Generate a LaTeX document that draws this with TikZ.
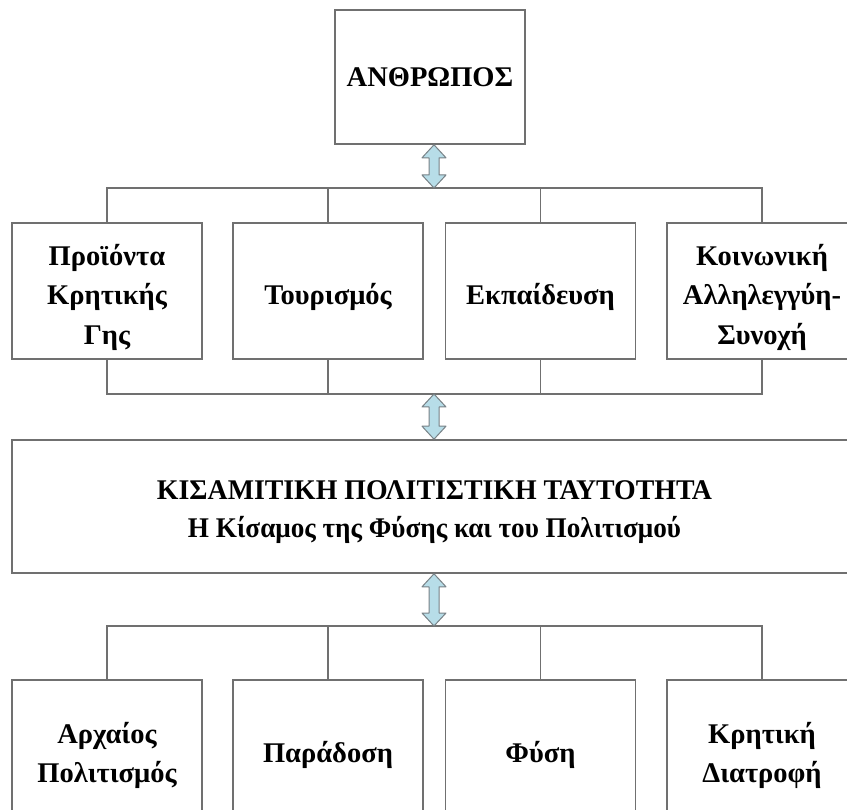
\documentclass[tikz,border=0pt]{standalone}
\usepackage{fontspec}
\usepackage{graphicx}
\setmainfont{Liberation Serif}
\usetikzlibrary{calc}
\definecolor{edgegray}{RGB}{112,112,112}
\definecolor{arrowblue}{RGB}{183,221,232}
\definecolor{arrowedge}{RGB}{120,130,135}
\tikzset{
  box/.style={draw=edgegray, line width=1.6pt, fill=white, minimum width=190pt,
    minimum height=136pt, inner sep=0pt, align=center,
    font=\fontsize{28.5}{39.5}\selectfont\bfseries},
  bus/.style={draw=edgegray, line width=1.4pt},
  blockarrow/.style={fill=arrowblue, draw=arrowedge, line width=1pt, line join=round}
}
% text lowered a little inside its box, as in the reference
\newcommand\lbl[2][6pt]{\raisebox{-#1}[\height][\depth]{\begin{tabular}{@{}c@{}}#2\end{tabular}}}
\newcommand\dblarrow[2]{%
  \path[blockarrow] (#1) -- ($(#1)+(12,13)$) -- ($(#1)+(5,13)$) -- ($(#2)+(5,-13)$)
    -- ($(#2)+(12,-13)$) -- (#2) -- ($(#2)+(-12,-13)$) -- ($(#2)+(-5,-13)$)
    -- ($(#1)+(-5,13)$) -- ($(#1)+(-12,13)$) -- cycle;}
\begin{document}
\begin{tikzpicture}[x=1pt, y=-1pt]
\useasboundingbox (0,0) rectangle (847,810);
\clip (0,0) rectangle (847,810);
\fill[white] (0,0) rectangle (847,810);

% top
\node[box, minimum height=134pt] (top) at (430,77) {ΑΝΘΡΩΠΟΣ};

% row 1
\node[box] (ra) at (107,291) {\lbl{Προϊόντα\\Κρητικής\\Γης}};
\node[box] (rb) at (328,291) {\lbl{Τουρισμός}};
\node[box] (rc) at (540.5,291) {\lbl{Εκπαίδευση}};
\node[box] (rd) at (762,291) {\lbl{Κοινωνική\\Αλληλεγγύη-\\Συνοχή}};

% middle
\node[box, minimum width=845pt, minimum height=133pt,
  font=\fontsize{28.5}{38}\selectfont\bfseries] (mid) at (434.5,506.5)
  {\lbl[4pt]{\resizebox{555pt}{\height}{ΚΙΣΑΜΙΤΙΚΗ ΠΟΛΙΤΙΣΤΙΚΗ ΤΑΥΤΟΤΗΤΑ}\\
   \resizebox{493pt}{\height}{Η Κίσαμος της Φύσης και του Πολιτισμού}}};

% row 3
\node[box] (sa) at (107,748) {\lbl[7pt]{Αρχαίος\\Πολιτισμός}};
\node[box] (sb) at (328,748) {\lbl[7pt]{Παράδοση}};
\node[box] (sc) at (540.5,748) {\lbl[7pt]{Φύση}};
\node[box] (sd) at (762,748) {\lbl[7pt]{Κρητική\\Διατροφή}};

% bus coordinates
\coordinate (b1) at (434,188);
\coordinate (b2) at (434,394);
\coordinate (b3) at (434,626);

% bus 1 (above row 1)
\draw[bus] (ra.north) |- (b1) -| (rd.north);
\draw[bus] (rb.north) -- (rb.north |- b1);
\draw[bus] (rc.north) -- (rc.north |- b1);
% bus 2 (below row 1)
\draw[bus] (ra.south) |- (b2) -| (rd.south);
\draw[bus] (rb.south) -- (rb.south |- b2);
\draw[bus] (rc.south) -- (rc.south |- b2);
% bus 3 (above row 3)
\draw[bus] (sa.north) |- (b3) -| (sd.north);
\draw[bus] (sb.north) -- (sb.north |- b3);
\draw[bus] (sc.north) -- (sc.north |- b3);

% double arrows
\coordinate (a1t) at (b1 |- top.south);
\dblarrow{a1t}{b1}
\coordinate (a2b) at (b2 |- mid.north);
\dblarrow{b2}{a2b}
\coordinate (a3t) at (b3 |- mid.south);
\dblarrow{a3t}{b3}
\end{tikzpicture}
\end{document}
